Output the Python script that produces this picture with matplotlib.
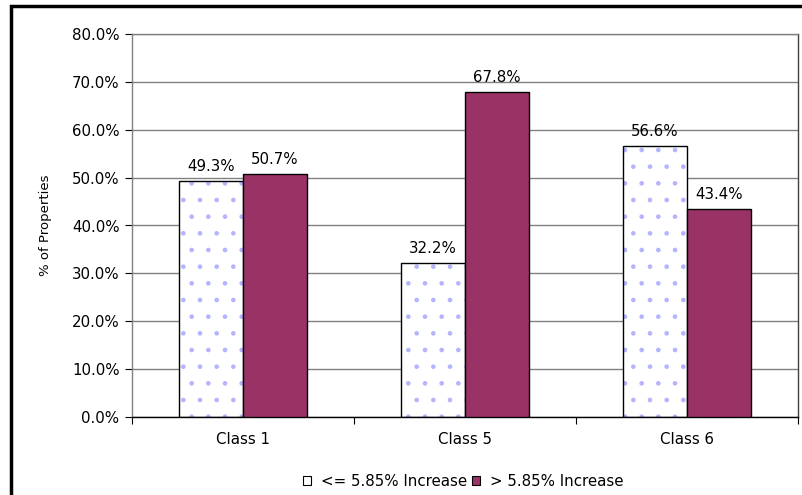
import matplotlib.pyplot as plt
import matplotlib.patches as mpatches
import numpy as np

# Chart data
categories = ['Class 1', 'Class 5', 'Class 6']
low_increase = [49.3, 32.2, 56.6]    # <= 5.85% Increase
high_increase = [50.7, 67.8, 43.4]   # > 5.85% Increase
series_names = ['<= 5.85% Increase', '> 5.85% Increase']
y_ticks = [0, 10, 20, 30, 40, 50, 60, 70, 80]

# reference text is a wide sans, DejaVu matches the widths best
plt.rcParams['font.family'] = ['DejaVu Sans']
plt.rcParams['hatch.linewidth'] = 0.9

maroon = '#993366'
dot_color = '#b4b4ff'
fs = 10.8

fig = plt.figure(figsize=(8.03, 4.95), dpi=100)
ax = fig.add_axes([132 / 803, 78 / 495, 666 / 803, 383 / 495])

x = np.arange(len(categories))
w = 0.288

# white bars with dotted fill, then black outline on top
ax.bar(x - w / 2, low_increase, w, color='white', edgecolor=dot_color,
       hatch='.', linewidth=0, zorder=2)
ax.bar(x - w / 2, low_increase, w, fill=False, edgecolor='black',
       linewidth=1.0, zorder=3)
ax.bar(x + w / 2, high_increase, w, color=maroon, edgecolor='black',
       linewidth=1.0, zorder=3)

# value labels
for i in range(len(categories)):
    ax.text(x[i] - w / 2, low_increase[i] + 1.5, f'{low_increase[i]:.1f}%',
            ha='center', va='bottom', fontsize=fs)
    ax.text(x[i] + w / 2, high_increase[i] + 1.5, f'{high_increase[i]:.1f}%',
            ha='center', va='bottom', fontsize=fs)

ax.set_xlim(-0.5, len(categories) - 0.5)
ax.set_ylim(0, 80)
ax.set_yticks(y_ticks)
ax.set_yticklabels([f'{v:.1f}%' for v in y_ticks], fontsize=fs)
ax.set_xticks(x)
ax.set_xticklabels(categories, fontsize=fs)
ax.set_xticks(np.arange(len(categories) + 1) - 0.5, minor=True)
ax.tick_params(axis='x', which='major', length=0, pad=11)
ax.tick_params(axis='x', which='minor', length=5, width=0.8, color='black')
ax.tick_params(axis='y', length=5, width=0.8, pad=4)
ax.yaxis.grid(True, color='#808080', linewidth=1.0, zorder=0)
ax.set_axisbelow(True)

ax.spines['left'].set_color('#808080')
ax.spines['top'].set_color('#808080')
ax.spines['right'].set_color('#404040')
ax.spines['bottom'].set_color('black')
for s in ax.spines.values():
    s.set_linewidth(1.0)

ax.set_ylabel('% of Properties', fontsize=9.5, labelpad=14)

# legend
h1 = mpatches.Patch(facecolor='white', edgecolor='black', linewidth=0.8)
h2 = mpatches.Patch(facecolor=maroon, edgecolor='black', linewidth=0.8)
fig.legend([h1, h2], series_names, loc='center', bbox_to_anchor=(463 / 803, 1 - 481 / 495),
           ncol=2, frameon=False, fontsize=fs, handlelength=0.55, handleheight=0.55,
           handletextpad=0.65, columnspacing=0.35)

# outer chart border (cropped at right and bottom)
fig.patches.append(mpatches.Rectangle((11.5 / 803, -0.1), 1.2, 1 - 6.5 / 495 + 0.1,
                                      transform=fig.transFigure, fill=False,
                                      edgecolor='black', linewidth=2.5))

fig.savefig('out.png', dpi=100)
